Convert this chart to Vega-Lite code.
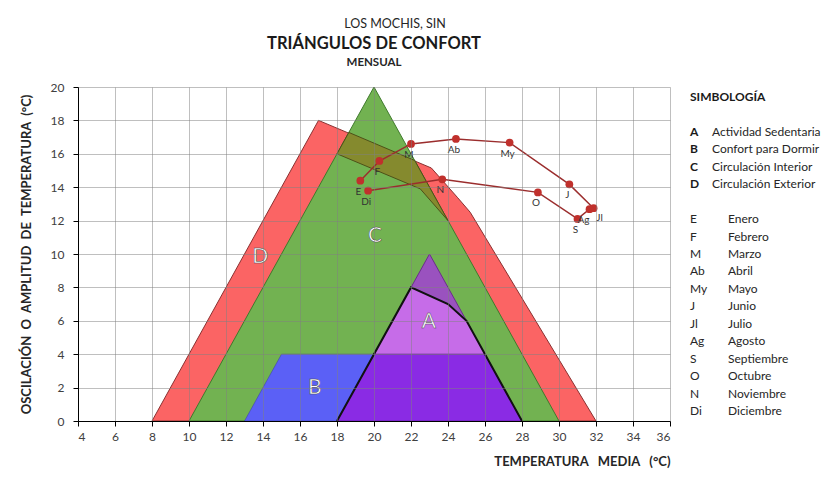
{
  "$schema": "https://vega.github.io/schema/vega-lite/v6.json",
  "background": "white",
  "padding": {"left": 20, "top": 17, "right": 0, "bottom": 5},
  "title": {"text": "LOS MOCHIS, SIN", "anchor": "middle", "dx": -30, "fontSize": 12.5, "fontWeight": "normal", "font": "Lato", "color": "#262626", "offset": 6},
  "spacing": 19,
  "datasets": {
    "shapes": [
      {"s": "D", "i": 0, "x": 8, "y": 0},
      {"s": "D", "i": 1, "x": 17, "y": 18},
      {"s": "D", "i": 2, "x": 23.1, "y": 15.15},
      {"s": "D", "i": 3, "x": 24.5, "y": 13.4},
      {"s": "D", "i": 4, "x": 25.2, "y": 12.5},
      {"s": "D", "i": 5, "x": 32, "y": 0},
      {"s": "D", "i": 6, "x": 8, "y": 0},
      {"s": "C", "i": 0, "x": 10, "y": 0},
      {"s": "C", "i": 1, "x": 20, "y": 20},
      {"s": "C", "i": 2, "x": 30, "y": 0},
      {"s": "C", "i": 3, "x": 10, "y": 0},
      {"s": "O", "i": 0, "x": 18, "y": 16},
      {"s": "O", "i": 1, "x": 18.64, "y": 17.28},
      {"s": "O", "i": 2, "x": 22.2, "y": 15.6},
      {"s": "O", "i": 3, "x": 24, "y": 12},
      {"s": "O", "i": 4, "x": 22.5, "y": 13.9},
      {"s": "O", "i": 5, "x": 18, "y": 16},
      {"s": "T", "i": 0, "x": 18, "y": 0},
      {"s": "T", "i": 1, "x": 23, "y": 10},
      {"s": "T", "i": 2, "x": 28, "y": 0},
      {"s": "T", "i": 3, "x": 18, "y": 0},
      {"s": "L", "i": 0, "x": 20, "y": 4},
      {"s": "L", "i": 1, "x": 22, "y": 8},
      {"s": "L", "i": 2, "x": 24, "y": 7},
      {"s": "L", "i": 3, "x": 25, "y": 6},
      {"s": "L", "i": 4, "x": 26, "y": 4},
      {"s": "L", "i": 5, "x": 20, "y": 4},
      {"s": "B", "i": 0, "x": 13, "y": 0},
      {"s": "B", "i": 1, "x": 15, "y": 4},
      {"s": "B", "i": 2, "x": 20, "y": 4},
      {"s": "B", "i": 3, "x": 18, "y": 0},
      {"s": "B", "i": 4, "x": 13, "y": 0},
      {"s": "P", "i": 0, "x": 18, "y": 0},
      {"s": "P", "i": 1, "x": 20, "y": 4},
      {"s": "P", "i": 2, "x": 26, "y": 4},
      {"s": "P", "i": 3, "x": 28, "y": 0},
      {"s": "P", "i": 4, "x": 18, "y": 0},
      {"s": "K", "i": 0, "x": 18, "y": 0},
      {"s": "K", "i": 1, "x": 22, "y": 8},
      {"s": "K", "i": 2, "x": 24, "y": 7},
      {"s": "K", "i": 3, "x": 25, "y": 6},
      {"s": "K", "i": 4, "x": 28, "y": 0}
    ],
    "letters": [
      {"t": "D", "x": 13.85, "y": 9.8},
      {"t": "C", "x": 20.05, "y": 11.1},
      {"t": "A", "x": 22.97, "y": 5.9},
      {"t": "B", "x": 16.8, "y": 2.0}
    ],
    "months": [
      {"m": "E", "i": 1, "x": 19.26, "y": 14.39},
      {"m": "F", "i": 2, "x": 20.29, "y": 15.57},
      {"m": "M", "i": 3, "x": 22.0, "y": 16.59},
      {"m": "Ab", "i": 4, "x": 24.43, "y": 16.89},
      {"m": "My", "i": 5, "x": 27.33, "y": 16.67},
      {"m": "J", "i": 6, "x": 30.56, "y": 14.17},
      {"m": "Jl", "i": 7, "x": 31.87, "y": 12.74},
      {"m": "Ag", "i": 8, "x": 31.65, "y": 12.68},
      {"m": "S", "i": 9, "x": 31.0, "y": 12.1},
      {"m": "O", "i": 10, "x": 28.86, "y": 13.69},
      {"m": "N", "i": 11, "x": 23.69, "y": 14.47},
      {"m": "Di", "i": 12, "x": 19.68, "y": 13.79}
    ],
    "legend": [
      {"k": "SIMBOLOGÍA", "key": "SIMBOLOGÍA", "desc": "", "g": "h"},
      {"k": "A", "key": "A", "desc": "Actividad Sedentaria", "g": "abcd"},
      {"k": "B", "key": "B", "desc": "Confort para Dormir", "g": "abcd"},
      {"k": "C", "key": "C", "desc": "Circulación Interior", "g": "abcd"},
      {"k": "D", "key": "D", "desc": "Circulación Exterior", "g": "abcd"},
      {"k": "E", "key": "E", "desc": "Enero", "g": "mes"},
      {"k": "F", "key": "F", "desc": "Febrero", "g": "mes"},
      {"k": "M", "key": "M", "desc": "Marzo", "g": "mes"},
      {"k": "Ab", "key": "Ab", "desc": "Abril", "g": "mes"},
      {"k": "My", "key": "My", "desc": "Mayo", "g": "mes"},
      {"k": "J", "key": "J", "desc": "Junio", "g": "mes"},
      {"k": "Jl", "key": "Jl", "desc": "Julio", "g": "mes"},
      {"k": "Ag", "key": "Ag", "desc": "Agosto", "g": "mes"},
      {"k": "S", "key": "S", "desc": "Septiembre", "g": "mes"},
      {"k": "O", "key": "O", "desc": "Octubre", "g": "mes"},
      {"k": "N", "key": "N", "desc": "Noviembre", "g": "mes"},
      {"k": "Di", "key": "Di", "desc": "Diciembre", "g": "mes"}
    ]
  },
  "hconcat": [
    {
      "width": 592,
      "height": 334,
      "title": {"text": "TRIÁNGULOS DE CONFORT", "subtitle": "MENSUAL", "anchor": "middle", "fontSize": 16.5, "fontWeight": "bold", "font": "Lato", "color": "#1a1a1a", "subtitleFont": "Lato", "subtitleFontSize": 11.5, "subtitleFontWeight": "bold", "subtitleColor": "#262626", "subtitlePadding": 4, "offset": 13},
      "data": {"name": "shapes"},
      "encoding": {
        "x": {"field": "x", "type": "quantitative", "scale": {"domain": [4, 36], "nice": false, "zero": false},
              "axis": {"values": [4,6,8,10,12,14,16,18,20,22,24,26,28,30,32,34,36], "title": "TEMPERATURA \u00a0\u00a0MEDIA \u00a0\u00a0(°C)", "titleAnchor": "end", "titleFont": "Lato", "titleFontSize": 13, "titleFontWeight": "bold", "titleColor": "#262626", "titlePadding": 13, "labelFont": "Lato", "labelFontSize": 12, "labelColor": "#404040", "labelPadding": 5, "domainColor": "#000", "tickColor": "#000", "tickSize": 5, "gridColor": "#808080", "gridOpacity": 0.5, "zindex": 1}},
        "y": {"field": "y", "type": "quantitative", "scale": {"domain": [0, 20], "nice": false},
              "axis": {"values": [0,2,4,6,8,10,12,14,16,18,20], "title": "OSCILACIÓN \u00a0O \u00a0AMPLITUD \u00a0DE \u00a0TEMPERATURA \u00a0(°C)", "titleFont": "Lato", "titleFontSize": 13, "titleFontWeight": "bold", "titleColor": "#262626", "titlePadding": 17, "labelFont": "Lato", "labelFontSize": 12, "labelColor": "#404040", "labelPadding": 9, "domainColor": "#000", "tickColor": "#000", "tickSize": 5, "gridColor": "#808080", "gridOpacity": 0.5, "zindex": 1}},
        "order": {"field": "i", "type": "quantitative"}
      },
      "layer": [
        {"transform": [{"filter": "datum.s == 'D'"}], "mark": {"type": "line", "filled": true, "fill": "#fb6464", "stroke": "#8a3030", "strokeWidth": 1}},
        {"transform": [{"filter": "datum.s == 'C'"}], "mark": {"type": "line", "filled": true, "fill": "#72b251", "stroke": "#3f7a2c", "strokeWidth": 1}},
        {"transform": [{"filter": "datum.s == 'O'"}], "mark": {"type": "line", "filled": true, "fill": "#858a2e", "stroke": "#4e5018", "strokeWidth": 1}},
        {"transform": [{"filter": "datum.s == 'T'"}], "mark": {"type": "line", "filled": true, "fill": "#9a52bf", "stroke": "#6a2f8a", "strokeWidth": 1}},
        {"transform": [{"filter": "datum.s == 'L'"}], "mark": {"type": "line", "filled": true, "fill": "#c66ce8", "stroke": "#7a3aa0", "strokeWidth": 0.5}},
        {"transform": [{"filter": "datum.s == 'B'"}], "mark": {"type": "line", "filled": true, "fill": "#5b60f6", "stroke": "#3a3ca0", "strokeWidth": 0.5}},
        {"transform": [{"filter": "datum.s == 'P'"}], "mark": {"type": "line", "filled": true, "fill": "#8a2be4", "stroke": "#4a1a80", "strokeWidth": 0.5}},
        {"transform": [{"filter": "datum.s == 'K'"}], "mark": {"type": "line", "color": "#111", "strokeWidth": 2}},
        {"data": {"name": "letters"}, "mark": {"type": "text", "fontSize": 21, "font": "Lato", "fill": "white", "stroke": "#444", "strokeWidth": 0.5},
         "encoding": {"text": {"field": "t"}, "order": null}},
        {"data": {"name": "months"}, "mark": {"type": "line", "color": "#9b2d2d", "strokeWidth": 1.5}},
        {"data": {"name": "months"}, "mark": {"type": "point", "filled": true, "color": "#c0302c", "size": 60, "opacity": 1}, "encoding": {"order": null}},
        {"data": {"name": "months"}, "transform": [{"filter": "datum.m != 'Jl' && datum.m != 'Ag'"}], "mark": {"type": "text", "fontSize": 10, "font": "Lato", "color": "#333", "dy": 11, "dx": -2},
         "encoding": {"text": {"field": "m"}, "order": null}},
        {"data": {"name": "months"}, "transform": [{"filter": "datum.m == 'Ag'"}], "mark": {"type": "text", "fontSize": 10, "font": "Lato", "color": "#333", "dy": 11, "dx": -6},
         "encoding": {"text": {"field": "m"}, "order": null}},
        {"data": {"name": "months"}, "transform": [{"filter": "datum.m == 'Jl'"}], "mark": {"type": "text", "fontSize": 10, "font": "Lato", "color": "#333", "dy": 10, "dx": 6},
         "encoding": {"text": {"field": "m"}, "order": null}}
      ]
    },
    {
      "width": 140,
      "height": 334,
      "data": {"name": "legend"},
      "encoding": {
        "y": {"field": "k", "type": "nominal", "axis": null,
              "scale": {"type": "point", "padding": 0.55, "domain": ["SIMBOLOGÍA", "g1", "A", "B", "C", "D", "g2", "E", "F", "M", "Ab", "My", "J", "Jl", "Ag", "S", "O", "N", "Di"]}},
        "x": {"datum": 0, "type": "quantitative", "scale": {"domain": [0, 1]}, "axis": null}
      },
      "layer": [
        {"transform": [{"filter": "datum.g != 'mes'"}], "mark": {"type": "text", "align": "left", "font": "Lato", "fontSize": 12, "fontWeight": "bold", "color": "#1a1a1a"}, "encoding": {"text": {"field": "key"}}},
        {"transform": [{"filter": "datum.g == 'mes'"}], "mark": {"type": "text", "align": "left", "font": "Lato", "fontSize": 12, "color": "#262626"}, "encoding": {"text": {"field": "key"}}},
        {"transform": [{"filter": "datum.g == 'abcd'"}], "mark": {"type": "text", "align": "left", "font": "Lato", "fontSize": 12, "color": "#262626", "dx": 22}, "encoding": {"text": {"field": "desc"}}},
        {"transform": [{"filter": "datum.g == 'mes'"}], "mark": {"type": "text", "align": "left", "font": "Lato", "fontSize": 12, "color": "#262626", "dx": 38}, "encoding": {"text": {"field": "desc"}}}
      ]
    }
  ],
  "config": {"view": {"stroke": null}}
}
